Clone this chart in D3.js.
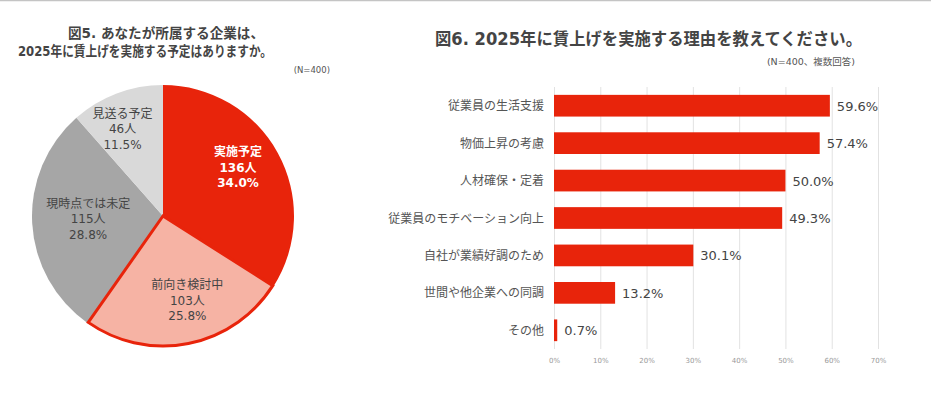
<!DOCTYPE html>
<html>
<head>
<meta charset="utf-8">
<script src="https://cdn.jsdelivr.net/npm/d3@7"></script>
<style>
  body { margin: 0; background: #fff; }
  svg { display: block; font-family: "DejaVu Sans", "Noto Sans CJK JP", sans-serif; }
</style>
</head>
<body>
<svg id="chart" width="931" height="396"></svg>
<script>
// --- data: figure 5 (pie) ---
const pieLabels = ["実施予定", "前向き検討中", "現時点では未定", "見送る予定"];
const pieCounts = [136, 103, 115, 46];
const piePercents = ["34.0%", "25.8%", "28.8%", "11.5%"];

// --- data: figure 6 (bars) ---
const reasons = [
  "従業員の生活支援",
  "物価上昇の考慮",
  "人材確保・定着",
  "従業員のモチベーション向上",
  "自社が業績好調のため",
  "世間や他企業への同調",
  "その他"
];
const reasonValues = [59.6, 57.4, 50.0, 49.3, 30.1, 13.2, 0.7];
const xTicks = [0, 10, 20, 30, 40, 50, 60, 70];

const svg = d3.select("#chart");

// top rule
svg.append("line")
  .attr("x1", 0).attr("x2", 931).attr("y1", 0.5).attr("y2", 0.5)
  .attr("stroke", "#c4c4c4").attr("stroke-width", 1.5);

// ---------- Figure 5 ----------
svg.append("text").attr("x", 68).attr("y", 38)
  .attr("textLength", 196).attr("lengthAdjust", "spacingAndGlyphs")
  .attr("font-size", 14).attr("font-weight", 700).attr("fill", "#444")
  .text("図5. あなたが所属する企業は、");
svg.append("text").attr("x", 18).attr("y", 56)
  .attr("textLength", 254).attr("lengthAdjust", "spacingAndGlyphs")
  .attr("font-size", 14).attr("font-weight", 700).attr("fill", "#444")
  .text("2025年に賃上げを実施する予定はありますか。");
svg.append("text").attr("x", 330).attr("y", 73)
  .attr("text-anchor", "end").attr("font-size", 8.5).attr("fill", "#555")
  .text("(N=400)");

const pieColors = ["#e8240b", "#f6b3a4", "#a6a6a6", "#d9d9d9"];
const textColors = ["#fff", "#444", "#444", "#444"];
// small nudges so labels sit where the original places them
const labelNudge = [[-3, -6], [7, -3], [14, -2], [-9, -4]];

const radius = 131;
const pieG = svg.append("g").attr("transform", "translate(163,216)");
const arcs = d3.pie().sort(null).value(d => d)(pieCounts);
const arc = d3.arc().innerRadius(0).outerRadius(radius);
const labelArc = d3.arc().innerRadius(89).outerRadius(89);

pieG.selectAll("path.slice")
  .data(arcs)
  .join("path")
  .attr("class", "slice")
  .attr("d", arc)
  .attr("fill", (d, i) => pieColors[i]);

// outline for 前向き検討中
pieG.append("path")
  .attr("d", d3.arc().innerRadius(0).outerRadius(radius - 1)(arcs[1]))
  .attr("fill", "none")
  .attr("stroke", "#e8240b")
  .attr("stroke-width", 3)
  .attr("stroke-linejoin", "miter");

// one text per slice, three lines as tspans
pieG.selectAll("text.lbl")
  .data(arcs)
  .join("text")
  .attr("class", "lbl")
  .attr("text-anchor", "middle")
  .attr("font-size", 12)
  .attr("fill", (d, i) => textColors[i])
  .attr("font-weight", (d, i) => i === 0 ? 700 : 400)
  .attr("transform", (d, i) => {
    const c = labelArc.centroid(d);
    return `translate(${c[0] + labelNudge[i][0]},${c[1] + labelNudge[i][1]})`;
  })
  .each(function (d, i) {
    const t = d3.select(this);
    [pieLabels[i], pieCounts[i] + "人", piePercents[i]].forEach((s, k) => {
      t.append("tspan").attr("x", 0).attr("y", (k - 1) * 15.5 + 4.5).text(s);
    });
  });

// ---------- Figure 6 ----------
svg.append("text").attr("x", 435).attr("y", 45)
  .attr("textLength", 427).attr("lengthAdjust", "spacingAndGlyphs")
  .attr("font-size", 17).attr("font-weight", 700).attr("fill", "#444")
  .text("図6. 2025年に賃上げを実施する理由を教えてください。");
svg.append("text").attr("x", 855).attr("y", 65)
  .attr("text-anchor", "end").attr("font-size", 9.5).attr("fill", "#555")
  .text("(N=400、複数回答)");

const x = d3.scaleLinear().domain([0, 70]).range([554, 878]);
const y = d3.scaleBand().domain(reasons).range([87, 349]).paddingInner(0.42).paddingOuter(0.21);

// grid
svg.append("g").selectAll("line")
  .data(xTicks)
  .join("line")
  .attr("x1", d => x(d) + 0.5).attr("x2", d => x(d) + 0.5)
  .attr("y1", 87).attr("y2", 349)
  .attr("stroke", "#e2e2e2").attr("stroke-width", 1);

// x axis tick labels
const xAxis = d3.axisBottom(x).tickValues(xTicks).tickFormat(d => d + "%").tickSize(0);
const xg = svg.append("g").attr("transform", "translate(0,355)").call(xAxis);
xg.select(".domain").remove();
xg.selectAll("text").attr("font-size", 7).attr("fill", "#999")
  .attr("font-family", "'DejaVu Sans', sans-serif");

// bars
svg.append("g").selectAll("rect")
  .data(reasonValues)
  .join("rect")
  .attr("x", x(0))
  .attr("y", (d, i) => y(reasons[i]))
  .attr("width", d => x(d) - x(0))
  .attr("height", y.bandwidth())
  .attr("fill", "#e8240b");

// category labels
svg.append("g").selectAll("text")
  .data(reasons)
  .join("text")
  .attr("x", 544)
  .attr("y", d => y(d) + y.bandwidth() / 2 + 4.5)
  .attr("text-anchor", "end")
  .attr("font-size", 12)
  .attr("fill", "#555")
  .text(d => d);

// value labels
svg.append("g").selectAll("text")
  .data(reasonValues)
  .join("text")
  .attr("x", d => x(d) + 7)
  .attr("y", (d, i) => y(reasons[i]) + y.bandwidth() / 2 + 5)
  .attr("font-size", 13)
  .attr("fill", "#444")
  .text(d => d.toFixed(1) + "%");
</script>
</body>
</html>
